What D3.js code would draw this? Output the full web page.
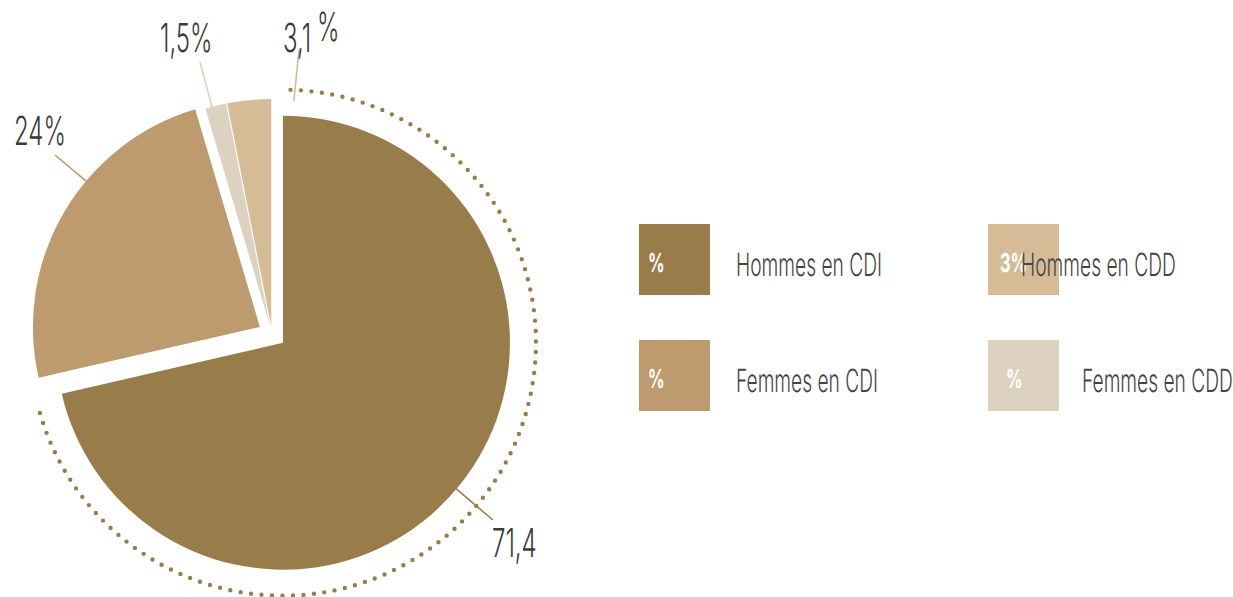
<!DOCTYPE html>
<html>
<head>
<meta charset="utf-8">
<script src="https://cdn.jsdelivr.net/npm/d3@7"></script>
<style>
  html, body { margin: 0; padding: 0; background: #ffffff; }
  svg { display: block; }
  text { font-family: Inter, Roboto, "Liberation Sans", sans-serif; text-rendering: geometricPrecision; }
</style>
</head>
<body>
<svg id="chart" width="1233" height="597"></svg>
<script>
// ---- data ----
const categories = ["Hommes en CDI", "Femmes en CDI", "Femmes en CDD", "Hommes en CDD"];
const values = [71.4, 24, 1.5, 3.1];
const valueLabels = ["71,4", "24%", "1,5%", "3,1"];
const legendOrder = ["Hommes en CDI", "Hommes en CDD", "Femmes en CDI", "Femmes en CDD"];
const legendBoxLabels = ["%", "3%", "%", "%"];
const colors = ["#987d4b", "#bd9b6e", "#ddd1c0", "#d5bc97"];

// ---- layout ----
const W = 1233, H = 597;
const cx = 272, cy = 334;
const R = 227;
const explode = [14, 14, 8, 8];
const textColor = "#3a3a3a";
const lightWeight = 270;

const svg = d3.select("#chart");
const color = d3.scaleOrdinal().domain(categories).range(colors);

// calibrate a horizontal condensing factor so the installed font
// renders as narrow as the reference's condensed typeface
const probe = svg.append("text").attr("font-size", 32).attr("font-weight", lightWeight).text("Hommes en CDI");
const condense = 146 / probe.node().getComputedTextLength();
probe.remove();

const pie = d3.pie().sort(null).value(d => d.value);
const data = categories.map((c, i) => ({ cat: c, value: values[i], label: valueLabels[i] }));
const arcs = pie(data);
const arcGen = d3.arc().innerRadius(0).outerRadius(R);

function polar(a, r) { return [Math.sin(a) * r, -Math.cos(a) * r]; }

arcs.forEach((d, i) => {
  const mid = (d.startAngle + d.endAngle) / 2;
  const [ox, oy] = polar(mid, explode[i]);
  d.cx = cx + ox; d.cy = cy + oy;
});

// dotted ring around the largest slice
const big = arcs[0];
const ring = d3.path();
ring.arc(big.cx, big.cy, 253, big.startAngle - Math.PI / 2 + 0.03, big.endAngle - Math.PI / 2 - 0.02);
svg.append("path")
  .attr("d", ring.toString())
  .attr("fill", "none")
  .attr("stroke", colors[0])
  .attr("stroke-width", 4.4)
  .attr("stroke-linecap", "round")
  .attr("stroke-dasharray", "0 10.5");

// slices
svg.append("g").selectAll("path.slice")
  .data(arcs)
  .join("path")
  .attr("class", "slice")
  .attr("transform", d => `translate(${d.cx},${d.cy})`)
  .attr("d", arcGen)
  .attr("fill", d => color(d.data.cat));

function ctext(parent, x, y, str, size, opts = {}) {
  const sx = condense * (opts.k || 1);
  const g = parent.append("g").attr("transform", `translate(${x},${y}) scale(${sx},1)`);
  return g.append("text")
    .attr("x", 0).attr("y", 0)
    .attr("font-size", size)
    .attr("font-weight", opts.weight || lightWeight)
    .attr("fill", opts.fill || textColor)
    .text(str);
}

// leader lines + value labels
const lineEnds = [[493, 520], [55, 155], [200, 62], [299, 50]];
const labelPos = [[492, 557], [14, 145], [160, 52], [283, 52]];
const labels = svg.append("g");
arcs.forEach((d, i) => {
  const [ex, ey] = lineEnds[i];
  const a = Math.atan2(ex - d.cx, -(ey - d.cy));
  const [px, py] = polar(a, R - 1);
  labels.append("line")
    .attr("x1", d.cx + px).attr("y1", d.cy + py)
    .attr("x2", ex).attr("y2", ey)
    .attr("stroke", colors[i])
    .attr("stroke-width", 1.6);
  ctext(labels, labelPos[i][0], labelPos[i][1], d.data.label, 40);
});
ctext(labels, 317, 41, "%", 40);

// legend
const legCols = [639, 988];
const legRows = [224, 340];
const box = 71;
const legTextDx = [97, 33, 97, 94];
const boxLabelDx = [9, 12, 9, 18];
const legend = svg.append("g");
legendOrder.forEach((cat, i) => {
  const col = i % 2, row = Math.floor(i / 2);
  const x = legCols[col], y = legRows[row];
  legend.append("rect")
    .attr("x", x).attr("y", y)
    .attr("width", box).attr("height", box)
    .attr("fill", color(cat));
  ctext(legend, x + boxLabelDx[i], y + 48, legendBoxLabels[i], 26, { weight: 700, fill: "#ffffff", k: 1.05 });
  ctext(legend, x + legTextDx[i], y + 52, cat, 32, { fill: "#444444" });
});
</script>
</body>
</html>
